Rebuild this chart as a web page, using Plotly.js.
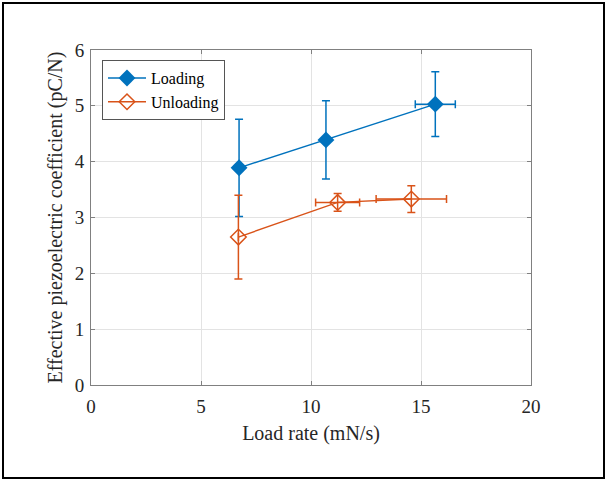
<!DOCTYPE html>
<html>
<head>
<meta charset="utf-8">
<script src="https://cdn.plot.ly/plotly-3.0.1.min.js"></script>
<style>
html,body{margin:0;padding:0;background:#fff;}
#wrap{position:relative;width:607px;height:481px;}
#frame{position:absolute;left:2px;top:2px;width:599px;height:473px;border:2px solid #000;pointer-events:none;}
#chart{position:absolute;left:0;top:0;width:607px;height:481px;}
</style>
</head>
<body>
<div id="wrap"><div id="chart"></div><div id="frame"></div></div>
<script>
// Data
const loadingRate = [6.73, 10.68, 15.65];
const loadingCoef = [3.89, 4.39, 5.03];
const loadingCoefErr = [0.87, 0.70, 0.58];
const loadingRateErr = [null, null, 0.91];

const unloadingRate = [6.70, 11.21, 14.56];
const unloadingCoef = [2.65, 3.27, 3.33];
const unloadingCoefErr = [0.75, 0.16, 0.24];
const unloadingRateErr = [null, 1.00, 1.60];

const xTicks = [0, 5, 10, 15, 20];
const yTicks = [0, 1, 2, 3, 4, 5, 6];

const blue = '#0072BD';
const orange = '#D95319';
const serif = 'Liberation Serif, Times New Roman, serif';

const traces = [
  {
    x: loadingRate, y: loadingCoef, name: 'Loading', type: 'scatter', mode: 'lines+markers',
    line: {color: blue, width: 1.4},
    marker: {symbol: 'diamond', size: 13, color: blue},
    error_y: {type: 'data', array: loadingCoefErr, color: blue, thickness: 1.5, width: 4},
    error_x: {type: 'data', array: loadingRateErr, color: blue, thickness: 1.5, width: 4}
  },
  {
    x: unloadingRate, y: unloadingCoef, name: 'Unloading', type: 'scatter', mode: 'lines+markers',
    line: {color: orange, width: 1.4},
    marker: {symbol: 'diamond-open', size: 12, color: orange, line: {color: orange, width: 1.5}},
    error_y: {type: 'data', array: unloadingCoefErr, color: orange, thickness: 1.5, width: 4},
    error_x: {type: 'data', array: unloadingRateErr, color: orange, thickness: 1.5, width: 4}
  }
];

const axisCommon = {
  showgrid: true, gridcolor: '#e3e3e3', gridwidth: 1,
  showline: true, linecolor: '#808080', linewidth: 1,
  mirror: 'ticks', ticks: 'inside', ticklen: 4, tickcolor: '#808080',
  zeroline: false,
  tickfont: {family: serif, size: 19, color: '#262626'}
};

const layout = {
  width: 607, height: 481,
  margin: {l: 91, r: 76, t: 50, b: 96},
  paper_bgcolor: '#fff', plot_bgcolor: '#fff',
  showlegend: true,
  xaxis: Object.assign({}, axisCommon, {
    range: [0, 20], tickvals: xTicks, ticktext: xTicks.map(String),
    ticklabelstandoff: 4,
    title: {text: 'Load rate (mN/s)', font: {family: serif, size: 20, color: '#262626'}, standoff: 10}
  }),
  yaxis: Object.assign({}, axisCommon, {
    range: [0, 6], tickvals: yTicks, ticktext: yTicks.map(String),
    ticklabelstandoff: 2,
    title: {text: 'Effective piezoelectric coefficient (pC/N)', font: {family: serif, size: 20, color: '#262626'}, standoff: 6}
  }),
  legend: {
    x: 0.025, y: 0.97, xanchor: 'left', yanchor: 'top',
    bgcolor: '#fff', bordercolor: '#555', borderwidth: 1,
    font: {family: serif, size: 16, color: '#000'},
    itemwidth: 38, tracegroupgap: 0
  }
};

Plotly.newPlot('chart', traces, layout, {displayModeBar: false, staticPlot: true});
</script>
</body>
</html>
